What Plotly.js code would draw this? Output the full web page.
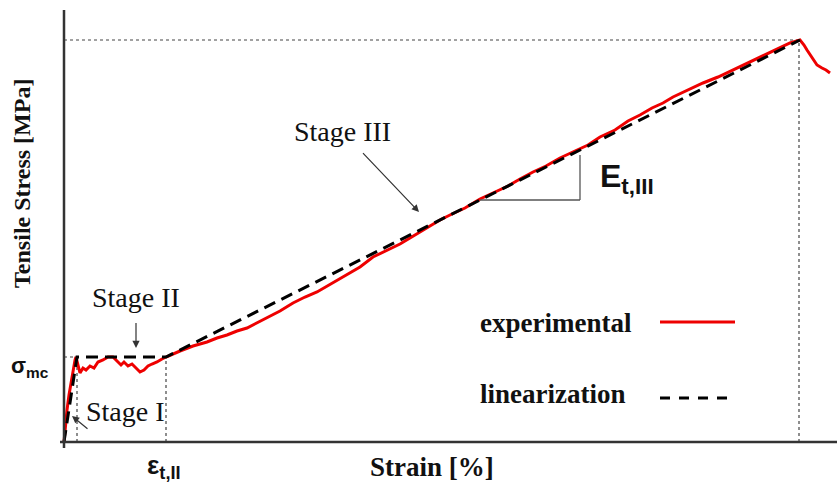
<!DOCTYPE html>
<html>
<head>
<meta charset="utf-8">
<script src="https://cdn.plot.ly/plotly-3.0.1.min.js"></script>
<style>html,body{margin:0;padding:0;background:#fff;}#chart{width:837px;height:488px;}</style>
</head>
<body>
<div id="chart"></div>
<script>
// Experimental tensile curve (schematic units)
const strainExp = [0,0.01,0.03,0.05,0.07,0.09,0.11,0.12,0.14,0.16,0.19,0.22,0.26,0.30,0.34,0.39,0.44,0.49,0.53,0.57,0.60,0.64,0.68,0.72,0.76,0.80,0.84,0.88,0.93,0.98,1.02,1.16,1.29,1.43,1.53,1.63,1.73,1.83,1.93,2.03,2.16,2.29,2.41,2.53,2.65,2.76,2.86,2.96,3.09,3.23,3.36,3.46,3.56,3.66,3.76,3.88,4.01,4.16,4.31,4.44,4.56,4.69,4.82,4.96,5.11,5.24,5.36,5.51,5.64,5.76,5.88,5.99,6.09,6.24,6.39,6.54,6.69,6.86,7.03,7.16,7.26,7.36,7.40,7.43,7.48,7.53,7.58,7.62,7.66];
const stressExp = [0,1.2,3.2,4.7,6.0,7.2,8.2,8.5,7.6,6.9,7.4,7.2,7.6,7.4,8.0,8.2,8.5,8.5,8.1,7.7,8.0,7.6,7.8,7.4,7.0,7.2,7.6,7.8,8.0,8.3,8.5,9.1,9.6,10.0,10.4,10.7,11.1,11.4,11.9,12.4,13.1,13.9,14.5,15.0,15.7,16.4,17.0,17.5,18.5,19.2,19.8,20.4,21.0,21.6,22.2,22.8,23.4,24.3,25.0,25.6,26.3,27.0,27.6,28.4,29.1,29.7,30.5,31.2,32.1,32.7,33.4,33.9,34.5,35.2,35.9,36.5,37.2,38.0,38.8,39.4,39.9,40.2,39.7,39.2,38.4,37.7,37.4,37.2,36.9];

// Linearization (tri-linear)
const strainLin = [0, 0.13, 1.02, 7.36];
const stressLin = [0, 8.5, 8.5, 40.2];

// Characteristic values
const epsI = 0.13;       // end of stage I
const sigmaMc = 8.5;     // first cracking stress
const epsTII = 1.02;     // end of stage II
const epsPeak = 7.35;    // strain at peak
const sigmaPeak = 40.2;  // peak stress

// Slope triangle for E_t,III
const triX = [4.16, 5.16];
const triY = [24.2, 28.7];

const serif = 'Liberation Serif, Times New Roman, serif';
const sans = 'Liberation Sans, Arial, sans-serif';

const traces = [
  {x: strainExp, y: stressExp, mode: 'lines', name: 'experimental',
   line: {color: '#ee0000', width: 3}, showlegend: false, hoverinfo: 'skip'},
  {x: strainLin, y: stressLin, mode: 'lines', name: 'linearization',
   line: {color: '#000000', width: 3, dash: '12px,7px'}, showlegend: false, hoverinfo: 'skip'}
];

const dot = {color: '#444', width: 1.2, dash: '3px,3px'};
const shapes = [
  // axes
  {type: 'line', xref: 'paper', yref: 'y', x0: 0, x1: 1, y0: 0, y1: 0, line: {color: '#333', width: 2.5}, layer: 'above'},
  {type: 'line', xref: 'x', yref: 'paper', x0: 0, x1: 0, y0: 0, y1: 1, line: {color: '#333', width: 2.5}, layer: 'above'},
  // dotted guide lines
  {type: 'line', x0: epsI, x1: epsI, y0: 0, y1: sigmaMc, line: dot, layer: 'below'},
  {type: 'line', x0: 0, x1: epsI, y0: sigmaMc, y1: sigmaMc, line: dot, layer: 'below'},
  {type: 'line', x0: epsTII, x1: epsTII, y0: 0, y1: sigmaMc, line: dot, layer: 'below'},
  {type: 'line', x0: 0, x1: epsPeak, y0: sigmaPeak, y1: sigmaPeak, line: dot, layer: 'below'},
  {type: 'line', x0: epsPeak, x1: epsPeak, y0: 0, y1: sigmaPeak, line: dot, layer: 'below'},
  // slope triangle
  {type: 'line', x0: triX[0], x1: triX[1], y0: triY[0], y1: triY[0], line: {color: '#555', width: 1.3}},
  {type: 'line', x0: triX[1], x1: triX[1], y0: triY[0], y1: triY[1], line: {color: '#555', width: 1.3}},
  // legend samples
  {type: 'line', x0: 5.96, x1: 6.71, y0: 12.0, y1: 12.0, line: {color: '#ee0000', width: 3}},
  {type: 'line', x0: 5.96, x1: 6.71, y0: 4.4, y1: 4.4, line: {color: '#000', width: 3, dash: '10px,9px'}}
];

const arrowStyle = {showarrow: true, arrowhead: 2, arrowsize: 1.2, arrowwidth: 1.2, arrowcolor: '#333'};
const stageFont = {family: serif, size: 28, color: '#111'};
const annotations = [
  Object.assign({x: 0.08, y: 2.6, ax: 17, ay: 14, text: ''}, arrowStyle),
  {x: 0.61, y: 3.1, text: 'Stage I', showarrow: false, font: stageFont},
  Object.assign({x: 0.72, y: 9.4, ax: 0, ay: -51, text: 'Stage II', startstandoff: 9, font: stageFont}, arrowStyle),
  Object.assign({x: 3.55, y: 23.0, ax: -77, ay: -81, text: 'Stage III', startstandoff: 7, font: stageFont}, arrowStyle),
  {x: 5.34, y: 26.4, xanchor: 'left', text: '<b>E</b><sub><b>t,III</b></sub>', showarrow: false, font: {family: sans, size: 32, color: '#111'}},
  {x: 4.14, y: 11.9, xanchor: 'left', text: '<b>experimental</b>', showarrow: false, font: {family: serif, size: 27, color: '#111'}},
  {x: 4.14, y: 4.8, xanchor: 'left', text: '<b>linearization</b>', showarrow: false, font: {family: serif, size: 27, color: '#111'}},
  {xref: 'paper', yref: 'paper', x: -0.0386, y: 0.185, xanchor: 'center', yanchor: 'middle', text: '<b>σ</b><sub><b>mc</b></sub>', showarrow: false, font: {family: sans, size: 22, color: '#111'}},
  {xref: 'x', yref: 'paper', x: 1.0, y: -0.043, xanchor: 'center', yanchor: 'middle', text: '<b>ε</b><sub><b>t,II</b></sub>', showarrow: false, font: {family: sans, size: 26, color: '#111'}},
  // axis titles
  {xref: 'paper', yref: 'paper', x: 0.479, y: -0.043, xanchor: 'center', yanchor: 'middle', text: '<b>Strain [%]</b>', showarrow: false, font: {family: serif, size: 27, color: '#111'}},
  {xref: 'paper', yref: 'paper', x: -0.049, y: 0.605, xanchor: 'center', yanchor: 'middle', textangle: -90, text: '<b>Tensile Stress [MPa]</b>', showarrow: false, font: {family: serif, size: 24, color: '#111'}}
];

const layout = {
  width: 837, height: 488,
  margin: {l: 60, r: 0, t: 10, b: 40, pad: 0},
  paper_bgcolor: '#fff', plot_bgcolor: '#fff',
  showlegend: false,
  xaxis: {range: [-0.04, 7.73], showgrid: false, zeroline: false, showline: false, showticklabels: false, ticks: ''},
  yaxis: {range: [-0.6, 43.2], showgrid: false, zeroline: false, showline: false, showticklabels: false, ticks: ''},
  shapes: shapes,
  annotations: annotations
};

Plotly.newPlot('chart', traces, layout, {staticPlot: true});
</script>
</body>
</html>
